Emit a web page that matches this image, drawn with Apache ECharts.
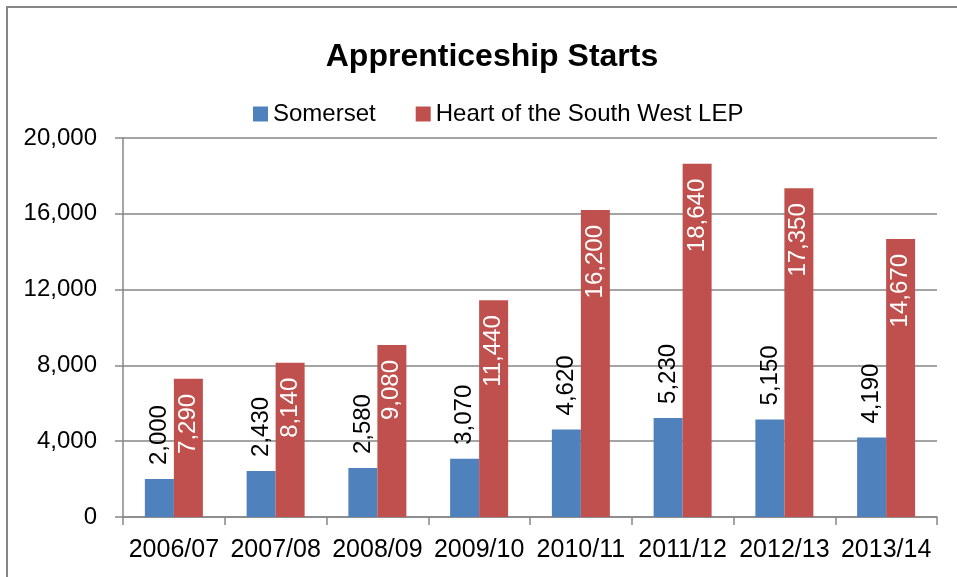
<!DOCTYPE html>
<html>
<head>
<meta charset="utf-8">
<title>Apprenticeship Starts</title>
<script src="https://cdn.jsdelivr.net/npm/echarts@6/dist/echarts.min.js"></script>
<style>
  html, body { margin: 0; padding: 0; background: #fff; }
  #chart { width: 957px; height: 577px; }
</style>
</head>
<body>
<div id="chart"></div>
<script>
// data
const years = ['2006/07', '2007/08', '2008/09', '2009/10', '2010/11', '2011/12', '2012/13', '2013/14'];
const somerset = [2000, 2430, 2580, 3070, 4620, 5230, 5150, 4190];
const heartSW = [7290, 8140, 9080, 11440, 16200, 18640, 17350, 14670];
const yTicks = [0, 4000, 8000, 12000, 16000, 20000];

const FONT = 'Liberation Sans';
const fmt = v => Number(v).toLocaleString('en-GB');

const chart = echarts.init(document.getElementById('chart'));

chart.setOption({
  animation: false,
  textStyle: { fontFamily: FONT },
  title: {
    text: 'Apprenticeship Starts',
    left: 487,
    top: 36,
    textAlign: 'center',
    textStyle: { fontFamily: FONT, fontSize: 32, fontWeight: 'bold', color: '#000' }
  },
  legend: {
    left: 248,
    top: 97,
    itemWidth: 15,
    itemHeight: 15,
    itemGap: 40,
    icon: 'rect',
    textStyle: { fontFamily: FONT, fontSize: 24, color: '#000' },
    data: ['Somerset', 'Heart of the South West LEP']
  },
  grid: { left: 123, right: 20, top: 138, bottom: 60 },
  xAxis: {
    type: 'category',
    data: years,
    axisLine: { lineStyle: { color: '#868686', width: 1.5 } },
    axisTick: { show: true, length: 8, lineStyle: { color: '#868686', width: 1.5 } },
    axisLabel: { fontFamily: FONT, fontSize: 25, color: '#000', margin: 21, interval: 0 }
  },
  yAxis: {
    type: 'value',
    min: yTicks[0],
    max: yTicks[yTicks.length - 1],
    interval: yTicks[1] - yTicks[0],
    axisLine: { show: true, lineStyle: { color: '#868686', width: 1.5 } },
    axisTick: { show: true, length: 8, lineStyle: { color: '#868686', width: 1.5 } },
    splitLine: { lineStyle: { color: '#868686', width: 1.5 } },
    axisLabel: { fontFamily: FONT, fontSize: 24, color: '#000', margin: 26, formatter: fmt }
  },
  series: [
    {
      name: 'Somerset',
      type: 'bar',
      data: somerset,
      barGap: '0%',
      barCategoryGap: '43%',
      itemStyle: { color: '#4F81BD' },
      label: {
        show: true,
        position: 'top',
        rotate: 90,
        align: 'left',
        verticalAlign: 'middle',
        distance: 14,
        fontFamily: FONT,
        fontSize: 24,
        color: '#000',
        formatter: p => fmt(p.value)
      }
    },
    {
      name: 'Heart of the South West LEP',
      type: 'bar',
      data: heartSW,
      barGap: '0%',
      barCategoryGap: '43%',
      itemStyle: { color: '#C0504D' },
      label: {
        show: true,
        position: 'insideTop',
        rotate: 90,
        align: 'right',
        verticalAlign: 'middle',
        distance: 15,
        fontFamily: FONT,
        fontSize: 24,
        color: '#fff',
        formatter: p => fmt(p.value)
      }
    }
  ],
  graphic: [
    {
      type: 'rect',
      shape: { x: 7, y: 7, width: 1000, height: 1000 },
      style: { fill: 'none', stroke: '#868686', lineWidth: 2 },
      silent: true
    }
  ]
});
</script>
</body>
</html>
